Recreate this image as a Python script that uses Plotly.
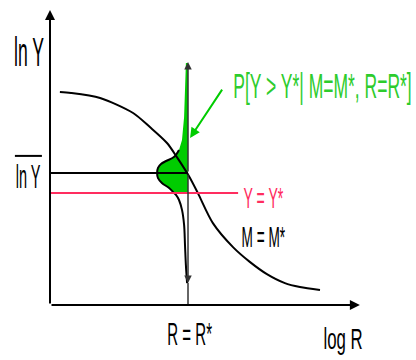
import json
import numpy as np
import plotly.graph_objects as go

# Diagram coordinates: x = log R, y = ln Y (arbitrary units)
R_STAR = 4.6
LNY_MEAN = 4.4
LNY_STAR = 3.73

# Median attenuation curve for M = M*
curve_x = [0.33, 0.7, 1.67, 2.77, 3.33, 3.9, 4.23, 4.63, 4.93, 5.43, 6.1, 6.67, 7.23, 7.83, 8.33, 9.0]
curve_y = [7.1, 7.07, 6.9, 6.4, 5.93, 5.4, 4.93, 4.3, 3.73, 2.73, 1.93, 1.43, 1.03, 0.73, 0.6, 0.5]

# Conditional distribution of ln Y at R = R* (drawn sideways, width = density)
dist_y = [8.07, 7.33, 6.27, 5.5, 5.17, 4.93, 4.8, 4.7, 4.57, 4.4, 4.23, 4.07, 3.9, 3.77, 3.67, 3.5, 3.17, 2.67, 2.0, 1.33, 0.73]
dist_w = [0.07, 0.1, 0.13, 0.2, 0.3, 0.47, 0.73, 0.9, 1.0, 1.03, 1.0, 0.87, 0.63, 0.5, 0.4, 0.3, 0.2, 0.13, 0.1, 0.07, 0.03]

BLACK = "#000000"
RED = "#ff2d5f"
GREEN_FILL = "#00cc00"
GREEN_TEXT = "#2dcc2d"
FONT = "Liberation Sans, Arial, sans-serif"

dy = np.array(dist_y)
dw = np.array(dist_w)
w_star = float(np.interp(LNY_STAR, dy[::-1], dw[::-1]))

# exceedance region: Y > Y*
top = dy >= LNY_STAR
fill_y = list(dy[top]) + [LNY_STAR, LNY_STAR, dy[0]]
fill_x = list(R_STAR - dw[top]) + [R_STAR - w_star, R_STAR, R_STAR]

fig = go.Figure()

fig.add_trace(go.Scatter(
    x=fill_x, y=fill_y, mode="lines", fill="toself",
    fillcolor=GREEN_FILL, line=dict(width=0), hoverinfo="skip"))

# outline of the density (bulge and lower tail)
edge = dy <= 5.2
fig.add_trace(go.Scatter(
    x=list(R_STAR - dw[edge]), y=list(dy[edge]), mode="lines",
    line=dict(color=BLACK, width=2, shape="spline"), hoverinfo="skip"))

fig.add_trace(go.Scatter(
    x=curve_x, y=curve_y, mode="lines",
    line=dict(color=BLACK, width=2, shape="spline", smoothing=0.8), hoverinfo="skip"))

# mean ln Y line and threshold Y*
fig.add_trace(go.Scatter(
    x=[0, R_STAR], y=[LNY_MEAN, LNY_MEAN], mode="lines",
    line=dict(color=BLACK, width=2), hoverinfo="skip"))
fig.add_trace(go.Scatter(
    x=[0, 6.27], y=[LNY_STAR, LNY_STAR], mode="lines",
    line=dict(color=RED, width=2), hoverinfo="skip"))

# vertical line at R = R* down to the axis
fig.add_trace(go.Scatter(
    x=[R_STAR, R_STAR], y=[0.73, 0], mode="lines",
    line=dict(color="#333333", width=1.5), hoverinfo="skip"))

def arrow(x0, y0, x1, y1, color, width):
    fig.add_annotation(x=x1, y=y1, ax=x0, ay=y0, xref="x", yref="y",
                       axref="x", ayref="y", text="", showarrow=True,
                       arrowhead=2, arrowsize=1, arrowwidth=width,
                       arrowcolor=color, standoff=0, startstandoff=0)

# axes
arrow(0, 0, 0, 9.83, BLACK, 2)
arrow(0, 0, 10.33, 0, BLACK, 2)
# R* line arrows
arrow(R_STAR, LNY_MEAN, R_STAR, 8.1, "#333333", 1.5)
arrow(R_STAR, LNY_MEAN, R_STAR, 0.73, "#333333", 1.5)
# pointer to the exceedance probability
arrow(5.77, 7.23, 4.67, 5.57, GREEN_FILL, 2)

def label(x, y, text, size, color=BLACK):
    fig.add_annotation(x=x, y=y, xref="x", yref="y", text=text,
                       showarrow=False, xanchor="center", yanchor="middle",
                       font=dict(family=FONT, size=size, color=color))

label(-0.7, 8.42, "ln Y", 40)
label(-0.72, 4.28, "ln Y", 33)
fig.add_shape(type="line", x0=-1.17, x1=-0.27, y0=4.97, y1=4.97,
              line=dict(color=BLACK, width=2))
label(4.65, -0.95, "R = R*", 32)
label(9.75, -1.1, "log R", 30)
label(7.13, 3.6, "Y = Y*", 30, RED)
label(7.12, 2.27, "M = M*", 29)
label(9.08, 7.33, "P[Y > Y*| M=M*, R=R*]", 35, GREEN_TEXT)

fig.update_layout(
    width=416, height=360,
    margin=dict(l=0, r=0, t=0, b=0),
    paper_bgcolor="white", plot_bgcolor="white",
    showlegend=False,
    xaxis=dict(range=[-50 / 30, 366 / 30], visible=False, fixedrange=True),
    yaxis=dict(range=[-55 / 30, 305 / 30], visible=False, fixedrange=True),
)

# narrow lettering: squeeze each label horizontally about its own centre
squeeze = {
    "ln Y": 0.44,
    "R = R*": 0.47,
    "log R": 0.56,
    "Y = Y*": 0.47,
    "M = M*": 0.47,
    "P[Y > Y*| M=M*, R=R*]": 0.5,
}
condense = """
var squeeze = %s;
var gd = document.getElementById('{plot_id}');
gd.querySelectorAll('text.annotation-text').forEach(function (t) {
    var k = squeeze[t.textContent];
    if (!k) { return; }
    t.style.transformBox = 'fill-box';
    t.style.transformOrigin = 'center';
    t.style.transform = 'scaleX(' + k + ')';
});
""" % json.dumps(squeeze)

fig.write_html("out.html", post_script=condense)
